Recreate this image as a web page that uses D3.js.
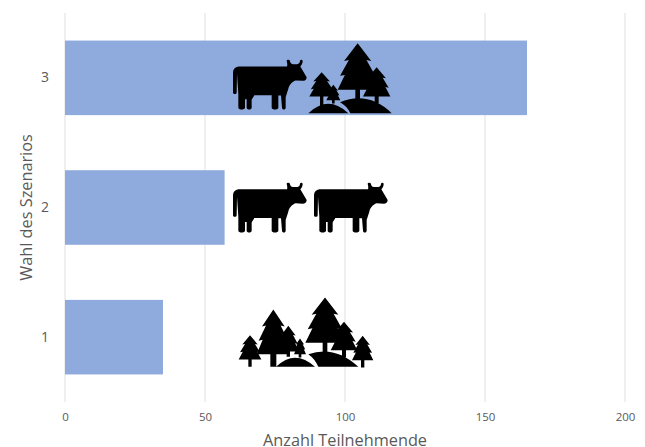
<!DOCTYPE html>
<html>
<head>
<meta charset="utf-8">
<script src="https://cdnjs.cloudflare.com/ajax/libs/d3/7.8.5/d3.min.js"></script>
<style>
  body { margin: 0; background: #fff; }
  text { font-family: "Open Sans", sans-serif; }
</style>
</head>
<body>
<script>
const scenarios = ['3', '2', '1'];
const participants = [165, 57, 35];
const xTicks = [0, 50, 100, 150, 200];
const scenarioIcons = [['cow', 'forestSmall'], ['cow', 'cow'], ['forestBig']];

const width = 645, height = 447;
const margin = {top: 13, right: 20, bottom: 45, left: 65};

const x = d3.scaleLinear()
  .domain([0, 200])
  .range([margin.left, width - margin.right]);

const y = d3.scaleBand()
  .domain(scenarios)
  .range([margin.top, height - margin.bottom])
  .paddingInner(0.425)
  .paddingOuter(0.2125);

const svg = d3.select('body')
  .append('svg')
  .attr('width', width)
  .attr('height', height)
  .style('display', 'block');

// grid
svg.append('g')
  .selectAll('line')
  .data(xTicks)
  .join('line')
  .attr('x1', d => x(d))
  .attr('x2', d => x(d))
  .attr('y1', margin.top)
  .attr('y2', height - margin.bottom)
  .attr('stroke', '#e4e4e4')
  .attr('stroke-width', 1.2);

// bars
svg.append('g')
  .selectAll('rect')
  .data(participants)
  .join('rect')
  .attr('x', x(0))
  .attr('y', (d, i) => y(scenarios[i]))
  .attr('width', d => x(d) - x(0))
  .attr('height', y.bandwidth())
  .attr('fill', '#8faadc');

// axes
svg.append('g')
  .attr('transform', `translate(0,${height - margin.bottom})`)
  .call(d3.axisBottom(x).tickValues(xTicks).tickSize(0).tickPadding(11))
  .call(g => g.select('.domain').remove())
  .call(g => g.selectAll('text')
    .style('font-size', '11.5px')
    .style('font-family', '"Open Sans", sans-serif')
    .attr('fill', '#595959'));

svg.append('g')
  .attr('transform', `translate(${margin.left},0)`)
  .call(d3.axisLeft(y).tickSize(0).tickPadding(16))
  .call(g => g.select('.domain').remove())
  .call(g => g.selectAll('text')
    .style('font-size', '14px')
    .style('font-family', '"Open Sans", sans-serif')
    .attr('fill', '#595959'));

svg.append('text')
  .attr('x', x(100))
  .attr('y', 446)
  .attr('text-anchor', 'middle')
  .attr('font-size', 16.3)
  .attr('fill', '#595959')
  .text('Anzahl Teilnehmende');

svg.append('text')
  .attr('transform', `translate(32,${y('2') + y.bandwidth() / 2}) rotate(-90)`)
  .attr('text-anchor', 'middle')
  .attr('font-size', 16.3)
  .attr('fill', '#595959')
  .text('Wahl des Szenarios');

// icons, drawn in 3x px units like the zoomed crops
function treePath(cx, top, base, half, trunkEnd, trunk) {
  const h = base - top;
  const tier = (yy, w) => [cx + w, yy];
  const right = [
    tier(top + h * 0.38, half * 0.68), tier(top + h * 0.36, half * 0.44),
    tier(top + h * 0.70, half * 0.88), tier(top + h * 0.68, half * 0.64),
    tier(base, half)
  ];
  const pts = [[cx, top], ...right, [cx + trunk, base], [cx + trunk, trunkEnd], [cx - trunk, trunkEnd], [cx - trunk, base]];
  right.slice().reverse().forEach(p => pts.push([2 * cx - p[0], p[1]]));
  return d3.line()(pts) + 'Z';
}

const cowPath = 'M40,58 L186,58 C188,52 186,46 185,41 C186,37 193,37 195,41 C195,46 198,50 204,51 L216,51 ' +
  'C222,50 225,46 225,41 C226,37 232,37 233,41 C233,49 230,54 226,58 L245,90 C245,97 240,101 233,101 ' +
  'L212,100 C200,104 192,115 190,125 L182,150 L182,182 C182,189 171,189 171,182 L168,145 L160,145 L160,182 ' +
  'C160,189 140,189 140,182 L140,144 L88,144 C84,152 80,156 80,158 L80,182 C80,189 65,189 65,182 L65,156 ' +
  'L60,156 L60,182 C60,189 40,189 40,182 L40,140 L36,80 L35,136 C35,142 24,142 24,136 L24,76 C24,66 30,60 40,58 Z';

const forestSmall = [
  treePath(398, 25, 165, 60, 195, 7),
  treePath(455, 97, 185, 41, 205, 6),
  treePath(290, 112, 185, 37, 215, 5),
  treePath(325, 150, 196, 21, 206, 4),
  'M250,235 Q310,178 370,235 Z',
  'M345,202 Q430,168 500,235 L376,235 Q366,213 345,202 Z'
];

const forestBig = [
  treePath(285, 22, 158, 59, 190, 7),
  treePath(342, 95, 180, 40, 202, 6),
  treePath(398, 137, 210, 32, 232, 5),
  treePath(60, 135, 208, 34, 230, 5),
  treePath(130, 58, 192, 50, 230, 9),
  treePath(175, 107, 184, 32, 200, 5),
  treePath(210, 145, 192, 18, 202, 4),
  'M138,230 Q195,175 255,230 Z',
  'M235,192 Q315,165 385,230 L265,230 Q255,206 235,192 Z'
];

const iconShapes = {cow: [cowPath], forestSmall, forestBig};

// where each icon's crop origin sits relative to the band centre, px
const iconOffsets = {
  '3': [[225, -30.7], [225, -43]],
  '2': [[225, -37.5], [306, -37.5]],
  '1': [[230, -47]]
};

const iconLayer = svg.append('g');
scenarios.forEach((s, i) => {
  const centre = y(s) + y.bandwidth() / 2;
  scenarioIcons[i].forEach((name, j) => {
    const [ox, oy] = iconOffsets[s][j];
    iconLayer.append('g')
      .attr('transform', `translate(${ox},${centre + oy}) scale(${1 / 3})`)
      .selectAll('path')
      .data(iconShapes[name])
      .join('path')
      .attr('d', d => d)
      .attr('fill', '#000');
  });
});
</script>
</body>
</html>
